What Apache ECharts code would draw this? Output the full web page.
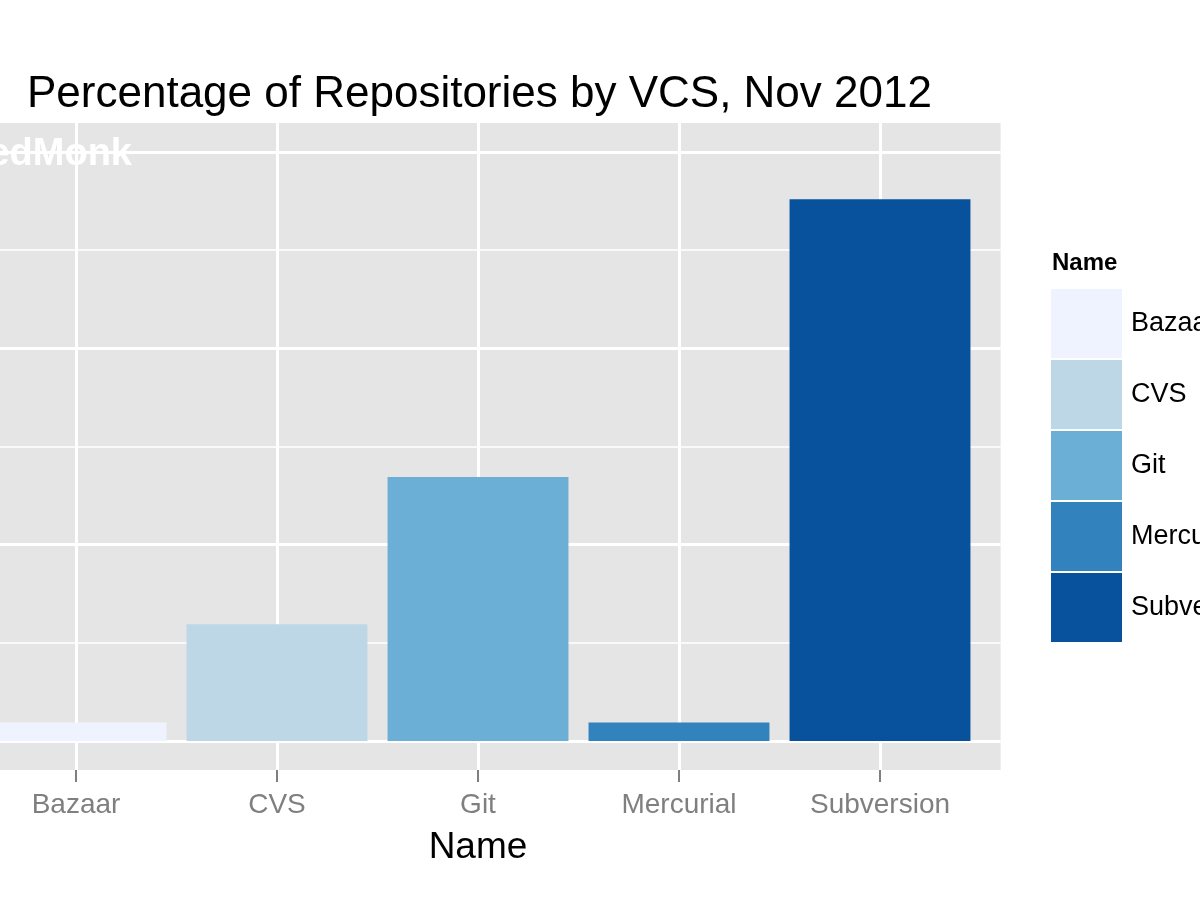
<!DOCTYPE html>
<html>
<head>
<meta charset="utf-8">
<script src="https://cdn.jsdelivr.net/npm/echarts@6/dist/echarts.min.js"></script>
<style>html,body{margin:0;padding:0;background:#fff;}#chart{width:1200px;height:900px;}</style>
</head>
<body>
<div id="chart"></div>
<script>
// Data
const categories = ['Bazaar', 'CVS', 'Git', 'Mercurial', 'Subversion'];
const values = [1.9, 11.9, 26.9, 1.9, 55.2];
const colors = ['#eff3ff', '#bdd7e7', '#6baed6', '#3182bd', '#08519c'];
const majorTicks = [0, 20, 40, 60];
const minorTicks = [10, 30, 50];
const yMin = -2.95, yMax = 62.96;

const FONT = '"Liberation Sans", Arial, Helvetica, sans-serif';
const chart = echarts.init(document.getElementById('chart'));

const barSeries = categories.map((name, i) => ({
  name: name,
  type: 'bar',
  xAxisIndex: 1,
  yAxisIndex: 1,
  stack: 'all',
  barWidth: '90%',
  z: 3,
  itemStyle: { color: colors[i] },
  data: categories.map((c, j) => (j === i ? values[i] : '-'))
}));

const hLines = majorTicks.map(v => ({ yAxis: v, lineStyle: { width: 3 } }))
  .concat(minorTicks.map(v => ({ yAxis: v, lineStyle: { width: 1.5 } })));

const option = {
  animation: false,
  title: [
    { text: 'Percentage of Repositories by VCS, Nov 2012', left: 27, top: 73, padding: 0,
      textStyle: { fontFamily: FONT, fontSize: 44, fontWeight: 'normal', color: '#000' } },
    { text: 'Name', left: 1052, top: 251, padding: 0,
      textStyle: { fontFamily: FONT, fontSize: 24, fontWeight: 'bold', color: '#000' } }
  ],
  legend: {
    data: categories,
    orient: 'vertical',
    left: 1051, top: 289, padding: 0,
    itemWidth: 71, itemHeight: 69, itemGap: 2,
    icon: 'rect',
    selectedMode: false,
    textStyle: { fontFamily: FONT, fontSize: 27, color: '#000', padding: [6, 0, 0, 4] }
  },
  grid: [
    { left: -44.6, right: 199.4, top: 123, bottom: 130, show: true, backgroundColor: '#e5e5e5', borderWidth: 0,
      containLabel: false, outerBoundsMode: 'none' },
    { left: -24.5, right: 219.5, top: 123, bottom: 130, containLabel: false, outerBoundsMode: 'none' }
  ],
  xAxis: [
    { type: 'value', gridIndex: 0, min: 0, max: 1, show: false },
    { type: 'category', gridIndex: 1, data: categories, position: 'bottom', z: 10,
      axisLine: { show: true, onZero: false, lineStyle: { color: 'rgba(0,0,0,0)', width: 0 } },
      axisTick: { show: true, alignWithLabel: true, interval: 0, length: 12, lineStyle: { color: '#7f7f7f', width: 2 } },
      axisLabel: { fontFamily: FONT, fontSize: 28, color: '#7f7f7f', margin: 21 },
      splitLine: { show: false },
      name: 'Name', nameLocation: 'middle', nameGap: 59,
      nameTextStyle: { fontFamily: FONT, fontSize: 37, color: '#000' } }
  ],
  yAxis: [
    { type: 'value', gridIndex: 0, min: yMin, max: yMax, show: false },
    { type: 'value', gridIndex: 1, min: yMin, max: yMax, show: false }
  ],
  graphic: [
    { type: 'text', x: -39, y: 136, z: 10, silent: true,
      style: { text: 'RedMonk', fill: '#ffffff', fontFamily: FONT, fontSize: 38, fontWeight: 'bold', verticalAlign: 'top' } }
  ],
  series: [
    { type: 'line', xAxisIndex: 0, yAxisIndex: 0, data: [], z: 1, silent: true,
      markLine: { z: 1, silent: true, symbol: 'none', label: { show: false }, animation: false,
        lineStyle: { color: '#ffffff', type: 'solid' }, data: hLines } },
    { type: 'line', xAxisIndex: 1, yAxisIndex: 1, data: [], z: 1, silent: true,
      markLine: { z: 1, silent: true, symbol: 'none', label: { show: false }, animation: false,
        lineStyle: { color: '#ffffff', type: 'solid', width: 3 },
        data: categories.map(c => ({ xAxis: c })) } }
  ].concat(barSeries)
};
chart.setOption(option);
</script>
</body>
</html>
